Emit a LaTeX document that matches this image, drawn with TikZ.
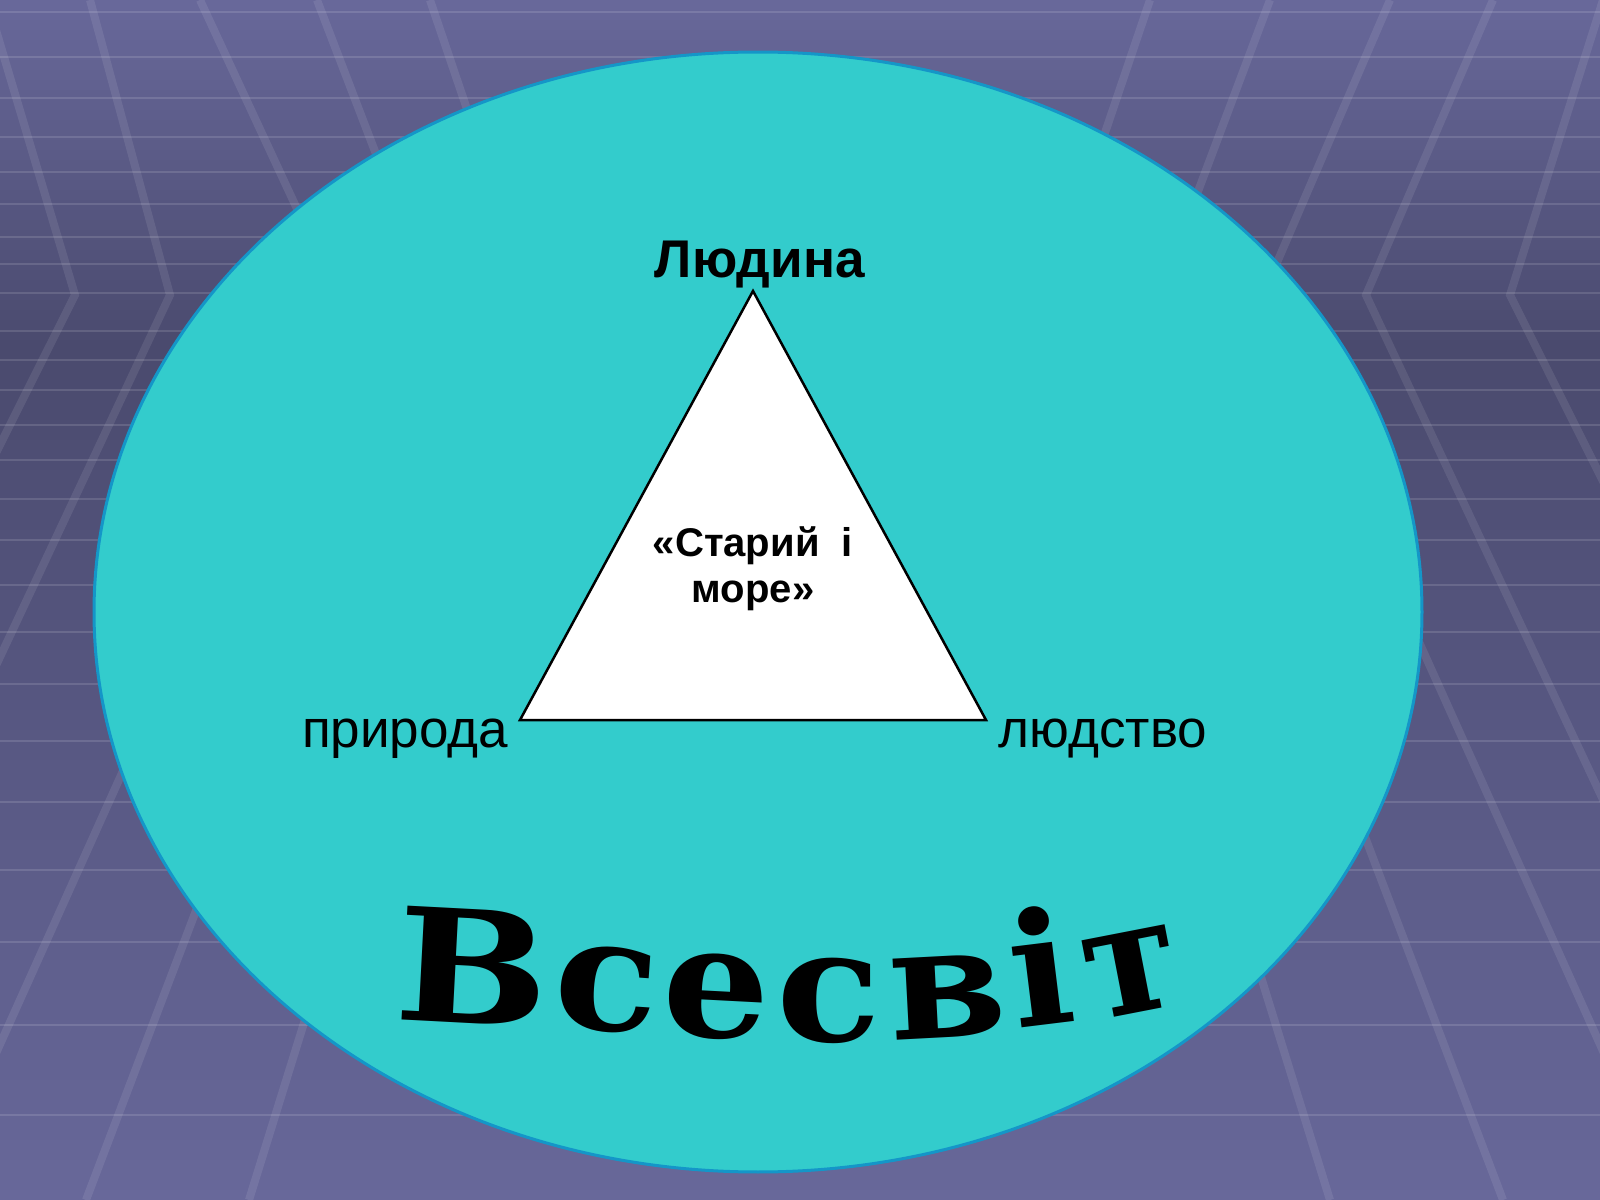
\documentclass[tikz,border=0pt]{standalone}
\usepackage{fontspec}
\setmainfont{Liberation Sans}
\newfontfamily\worldfont{DejaVu Serif}
\usepackage{tikz}
\definecolor{bgtop}{RGB}{104,104,154}
\definecolor{bgdark}{RGB}{74,74,110}
\definecolor{sea}{RGB}{51,204,204}
\definecolor{seaedge}{RGB}{20,150,200}
\def\universe{(758,612) ellipse (66.4mm and 56mm)}

\begin{document}
\begin{tikzpicture}[x=0.1mm,y=-0.1mm,
  word/.style={inner sep=0pt,font=\fontsize{15.1pt}{18pt}\selectfont},
  grid/.style={white,opacity=0.13,line width=0.25mm},
  diag/.style={white,opacity=0.09,line width=0.8mm,line join=miter},
  letter/.style={anchor=base,inner sep=0pt,font=\worldfont\bfseries\fontsize{44.5pt}{48pt}\selectfont}]
\useasboundingbox (0,0) rectangle (1600,1200);
\begin{scope}
\clip (0,0) rectangle (1600,1200);
\foreach \y in {0,10,...,1190} {
  \pgfmathsetmacro\mix{\y<340 ? \y/340*100 : (1200-\y)/860*100}
  \fill[bgdark!\mix!bgtop] (0,\y) rectangle (1600,\y+11);
}
\foreach \y in {12,57,98,137,172,204,237,264,293,331,360,390,425,460,499,540,585,632,684,741,802,870,942,1025,1115}
  \draw[grid] (0,\y) -- (1600,\y);
\foreach \t/\c/\b in {-13/75/-378,90/170/-255,200/337/-70,317/430/86,430/530/249,
  1603/1510/1962,1493/1366/1791,1390/1263/1670,1270/1159/1503,1150/1050/1330}
  \draw[diag] (\t,0) -- (\c,295) -- (\b,1200);
\end{scope}
\fill[sea,draw=seaedge,line width=0.3mm] \universe;
\coordinate (apex) at (753,291);
\coordinate (baseL) at (520,720);
\coordinate (baseR) at (986,720);
\draw[fill=white,line width=0.25mm,line join=miter] (apex) -- (baseL) -- (baseR) -- cycle;
\node[word,anchor=base] (man) at (760,278) {\textbf{Людина}};
\node[word,anchor=base east] (nature) at (509,747) {природа};
\node[word,anchor=base west] (mankind) at (998,747) {людство};
\node[align=center,font=\bfseries\fontsize{11.4pt}{13.1pt}\selectfont] (novel) at (753,569) {«Старий\ \ і\\море»};
\foreach \idx/\ch/\px/\py/\ang/\sx in {1/В/470/1024/-3/1.16,2/с/604/1030/-4/1.1,3/е/714/1037/-3/1.08,4/с/829/1041/0/1.1,5/в/950/1037/3/1.08,6/і/1047/1025/7/1.05,7/т/1140/1012/11/1.0}
  \node[letter,rotate=\ang,xscale=\sx] (w\idx) at (\px,\py) {\ch};
\end{tikzpicture}
\end{document}
